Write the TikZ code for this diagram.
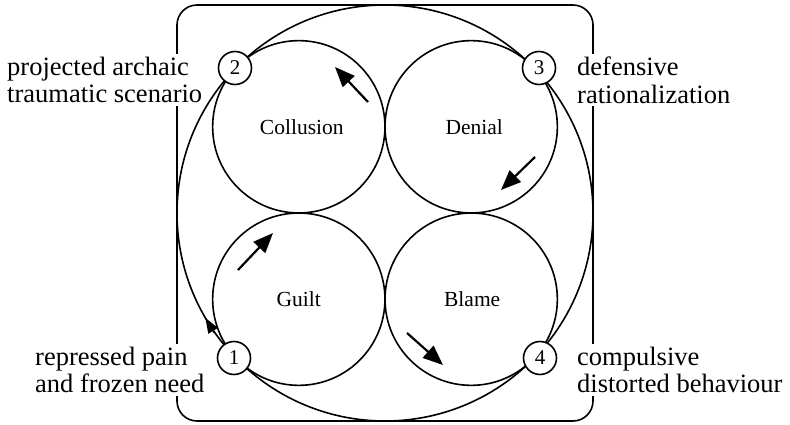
\documentclass[tikz,border=0pt]{standalone}
\usepackage{fontspec}
\setmainfont{Liberation Serif}
\usetikzlibrary{arrows.meta}
\begin{document}
\begin{tikzpicture}[x=1pt,y=-1pt,
  ring/.style={line width=1.6pt},
  cycle/.style={circle,draw,line width=1.6pt,minimum size=172.3pt,inner sep=0pt,font=\rmfamily\fontsize{21.5}{22}\selectfont},
  numnode/.style={circle,draw,line width=1.6pt,fill=white,minimum size=33pt,inner sep=0pt,font=\rmfamily\fontsize{21}{21}\selectfont},
  sidelabel/.style={fill=white,align=left,inner xsep=2pt,inner ysep=3pt,anchor=north west,font=\rmfamily\fontsize{26.5}{27.5}\selectfont},
  flowarrow/.style={line width=2.2pt,-{Triangle[length=20pt,width=16pt]}},
  smallarrow/.style={line width=1.6pt,-{Triangle[length=15pt,width=11pt]}},
]
\useasboundingbox (0,0) rectangle (790,425);
% frame
\draw[ring, rounded corners=20pt] (177,5) rectangle (593,421);
% big circle
\node[circle,draw,line width=1.6pt,minimum size=416pt,inner sep=0pt] (outer) at (385,213) {};
% four inner circles
\node[cycle] (collusion) at (298.8,126.8) {\hspace{6pt}Collusion};
\node[cycle] (denial) at (471.2,126.8) {\hspace{6pt}Denial};
\node[cycle] (guilt) at (298.8,299.2) {Guilt\hspace{6pt}};
\node[cycle] (blame) at (471.2,299.2) {\hspace{2pt}Blame};
% arrows
\coordinate (a1s) at (368,102); \coordinate (a1e) at (335,67);
\coordinate (a2s) at (535,157); \coordinate (a2e) at (501,190);
\coordinate (a3s) at (238,270); \coordinate (a3e) at (273,233);
\coordinate (a4s) at (407,333); \coordinate (a4e) at (443,365);
\coordinate (a5s) at (214.5,333); \coordinate (a5e) at (205.4,318);
\draw[flowarrow] (a1s) -- (a1e);
\draw[flowarrow] (a2s) -- (a2e);
\draw[flowarrow] (a3s) -- (a3e);
\draw[flowarrow] (a4s) -- (a4e);
\draw[smallarrow] (a5s) -- (a5e);
% numbered nodes
\node[numnode] (n1) at (234,358) {1};
\node[numnode] (n2) at (235,68) {2};
\node[numnode] (n3) at (539,68) {3};
\node[numnode] (n4) at (540,358) {4};
% side labels
\node[sidelabel] (l2) at (5,53.8) {projected archaic\\traumatic scenario};
\node[sidelabel] (l3) at (575,53.8) {defensive\\rationalization};
\node[sidelabel] (l1) at (33,343.8) {repressed pain\\and frozen need};
\node[sidelabel] (l4) at (575,343.8) {compulsive\\distorted behaviour};
\end{tikzpicture}
\end{document}
